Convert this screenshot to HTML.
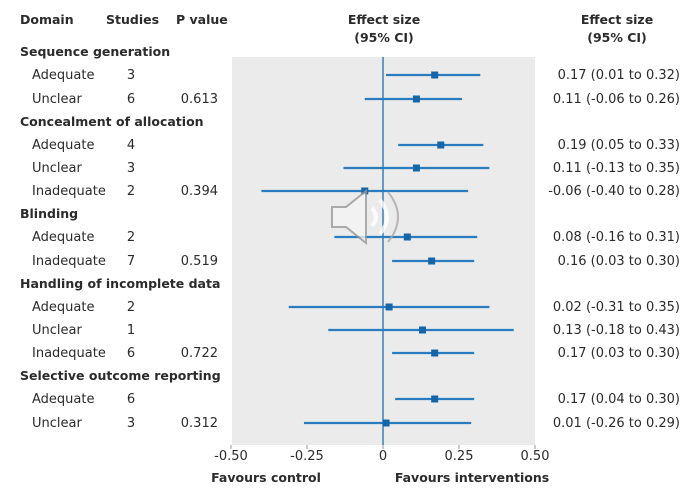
<!DOCTYPE html>
<html><head><meta charset="utf-8"><style>
body{margin:0;background:#fff;}
svg text{font-family:"DejaVu Sans","Liberation Sans",sans-serif;fill:#2b2b2b;}
</style></head><body>
<svg width="696" height="495" viewBox="0 0 696 495" xmlns="http://www.w3.org/2000/svg">
<rect x="232" y="57" width="303" height="388" fill="#ebebeb"/>
<g id="hdr">
<text x="20" y="24" font-weight="bold" font-size="12.5">Domain</text>
<text x="106" y="24" font-weight="bold" font-size="12.5">Studies</text>
<text x="176" y="24" font-weight="bold" font-size="12.5">P value</text>
<text x="384" y="24" text-anchor="middle" font-weight="bold" font-size="12.5">Effect size</text>
<text x="384" y="42" text-anchor="middle" font-weight="bold" font-size="12.5">(95% CI)</text>
<text x="617" y="24" text-anchor="middle" font-weight="bold" font-size="12.5">Effect size</text>
<text x="617" y="42" text-anchor="middle" font-weight="bold" font-size="12.5">(95% CI)</text>
</g>
<g id="rows"></g>
<g id="axis"></g>
<text x="266" y="482" text-anchor="middle" font-weight="bold" font-size="12.5">Favours control</text>
<text x="472" y="482" text-anchor="middle" font-weight="bold" font-size="12.5">Favours interventions</text>
<g opacity="0.8">
<path d="M332 207 h14 l20 -16 v52 l-20 -16 h-14 z" fill="#f4f4f4" stroke="#999" stroke-width="2"/>
<path d="M372 208 q8 9 0 18" fill="none" stroke="#fff" stroke-width="4"/>
<path d="M380 200 q14 17 0 34" fill="none" stroke="#fff" stroke-width="4"/>
<path d="M388 192 q20 25 0 50" fill="none" stroke="#aaa" stroke-width="2"/>
</g>
</svg>
<script>
const labels=["Adequate","Unclear","Adequate","Unclear","Inadequate","Adequate","Inadequate","Adequate","Unclear","Inadequate","Adequate","Unclear"];
const studies=["3","6","4","3","2","2","7","2","1","6","6","3"];
const pvalues=["","0.613","","","0.394","","0.519","","","0.722","","0.312"];
const est=[0.17,0.11,0.19,0.11,-0.06,0.08,0.16,0.02,0.13,0.17,0.17,0.01];
const lo=[0.01,-0.06,0.05,-0.13,-0.40,-0.16,0.03,-0.31,-0.18,0.03,0.04,-0.26];
const hi=[0.32,0.26,0.33,0.35,0.28,0.31,0.30,0.35,0.43,0.30,0.30,0.29];
const ciText=["0.17 (0.01 to 0.32)","0.11 (-0.06 to 0.26)","0.19 (0.05 to 0.33)","0.11 (-0.13 to 0.35)","-0.06 (-0.40 to 0.28)","0.08 (-0.16 to 0.31)","0.16 (0.03 to 0.30)","0.02 (-0.31 to 0.35)","0.13 (-0.18 to 0.43)","0.17 (0.03 to 0.30)","0.17 (0.04 to 0.30)","0.01 (-0.26 to 0.29)"];
const groups=["Sequence generation","Concealment of allocation","Blinding","Handling of incomplete data","Selective outcome reporting"];
const ticks=[-0.5,-0.25,0,0.25,0.5];
const tickLabels=["-0.50","-0.25","0","0.25","0.50"];
const NS="http://www.w3.org/2000/svg";
const x=v=>383+v*304;
const rowY=[75,99,145,168,191,237,261,307,330,353,399,423];
const groupY=[52,122,214,284,376];
function mk(tag,attrs,parent,txt){const e=document.createElementNS(NS,tag);for(const k in attrs)e.setAttribute(k,attrs[k]);if(txt!==undefined)e.textContent=txt;parent.appendChild(e);return e;}
const rows=document.getElementById('rows'),axis=document.getElementById('axis');
groups.forEach((g,i)=>{
 const t=mk('text',{x:20,y:groupY[i]+4,'font-size':12.5,'font-weight':'bold'},rows,g);
 
 
});
const zl=mk('line',{x1:x(0),x2:x(0),y1:57,y2:445,stroke:'#1f6fb0','stroke-width':1.3},rows);


est.forEach((v,i)=>{
 const y=rowY[i];
 const a=mk('text',{x:32,y:y+4,'font-size':13},rows,labels[i]);
 
 
 const b=mk('text',{x:131,y:y+4,'font-size':13,'text-anchor':'middle'},rows,studies[i]);
 
 
 const c=mk('text',{x:218,y:y+4,'font-size':13,'text-anchor':'end'},rows,pvalues[i]);
 
 
 const l=mk('line',{x1:x(lo[i]),x2:x(hi[i]),y1:y,y2:y,stroke:'#2a7cc0','stroke-width':2.2},rows);
 
 
 const r=mk('rect',{x:x(v)-3.5,y:y-3.5,width:7,height:7,fill:'#1565a8'},rows);
 
 
 const d=mk('text',{x:680,y:y+4,'font-size':13,'text-anchor':'end'},rows,ciText[i]);
 
 
});
ticks.forEach((t,i)=>{
 const tl=mk('line',{x1:x(t),x2:x(t),y1:445,y2:449,stroke:'#999'},axis);
 
 
 const tx=mk('text',{x:x(t),y:460,'font-size':13,'text-anchor':'middle',fill:'#555'},axis,tickLabels[i]);
 
 
});
</script>
</body></html>
